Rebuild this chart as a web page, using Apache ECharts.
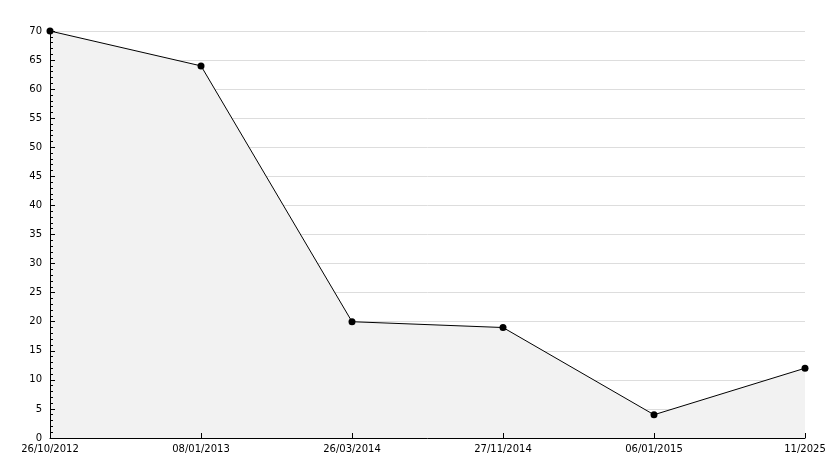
<!DOCTYPE html>
<html><head><meta charset="utf-8">
<script src="https://cdn.jsdelivr.net/npm/echarts@6/dist/echarts.min.js"></script>
<style>html,body{margin:0;padding:0;background:#fff}#c{width:834px;height:468px}</style>
</head><body><div id="c"></div>
<script>
const categories = ['26/10/2012','08/01/2013','26/03/2014','27/11/2014','06/01/2015','11/2025'];
const values = [70, 64, 20, 19, 4, 12];
const yMin = 0, yMax = 70, yStep = 5;
const chart = echarts.init(document.getElementById('c'), null, {renderer:'canvas'});
const font = {fontFamily:'DejaVu Sans', fontSize:10, color:'#000'};
chart.setOption({
  animation:false,
  backgroundColor:'#fff',
  grid:{left:50, right:29, top:31, bottom:30, containLabel:false},
  xAxis:[
    {type:'category', data:categories, boundaryGap:false, z:0,
      axisLine:{show:false}, axisTick:{show:false}, axisLabel:{show:false}, splitLine:{show:false}},
    {type:'category', data:categories, boundaryGap:false, z:10, position:'bottom',
      axisLine:{show:true, onZero:false, lineStyle:{color:'#000', width:1}},
      axisTick:{show:true, inside:true, length:5, lineStyle:{color:'#000'}},
      axisLabel:Object.assign({margin:6, interval:0}, font),
      splitLine:{show:false}}
  ],
  yAxis:[
    {type:'value', min:yMin, max:yMax, interval:yStep, z:0,
      axisLine:{show:false}, axisTick:{show:false}, axisLabel:{show:false},
      splitLine:{show:true, lineStyle:{color:'#dddddd', width:1}}},
    {type:'value', min:yMin, max:yMax, interval:yStep, z:10, position:'left', offset:0,
      axisLine:{show:true, onZero:false, lineStyle:{color:'#000', width:1}},
      axisTick:{show:true, inside:true, length:5, lineStyle:{color:'#000'}},
      minorTick:{show:true, splitNumber:5, length:3, lineStyle:{color:'#000'}},
      axisLabel:Object.assign({margin:8}, font),
      splitLine:{show:false}}
  ],
  series:[{type:'line', data:values, xAxisIndex:0, yAxisIndex:0, symbol:'circle', symbolSize:7,
    itemStyle:{color:'#000'}, lineStyle:{color:'#000', width:1},
    areaStyle:{color:'#f2f2f2', opacity:1}}]
});
</script></body></html>
